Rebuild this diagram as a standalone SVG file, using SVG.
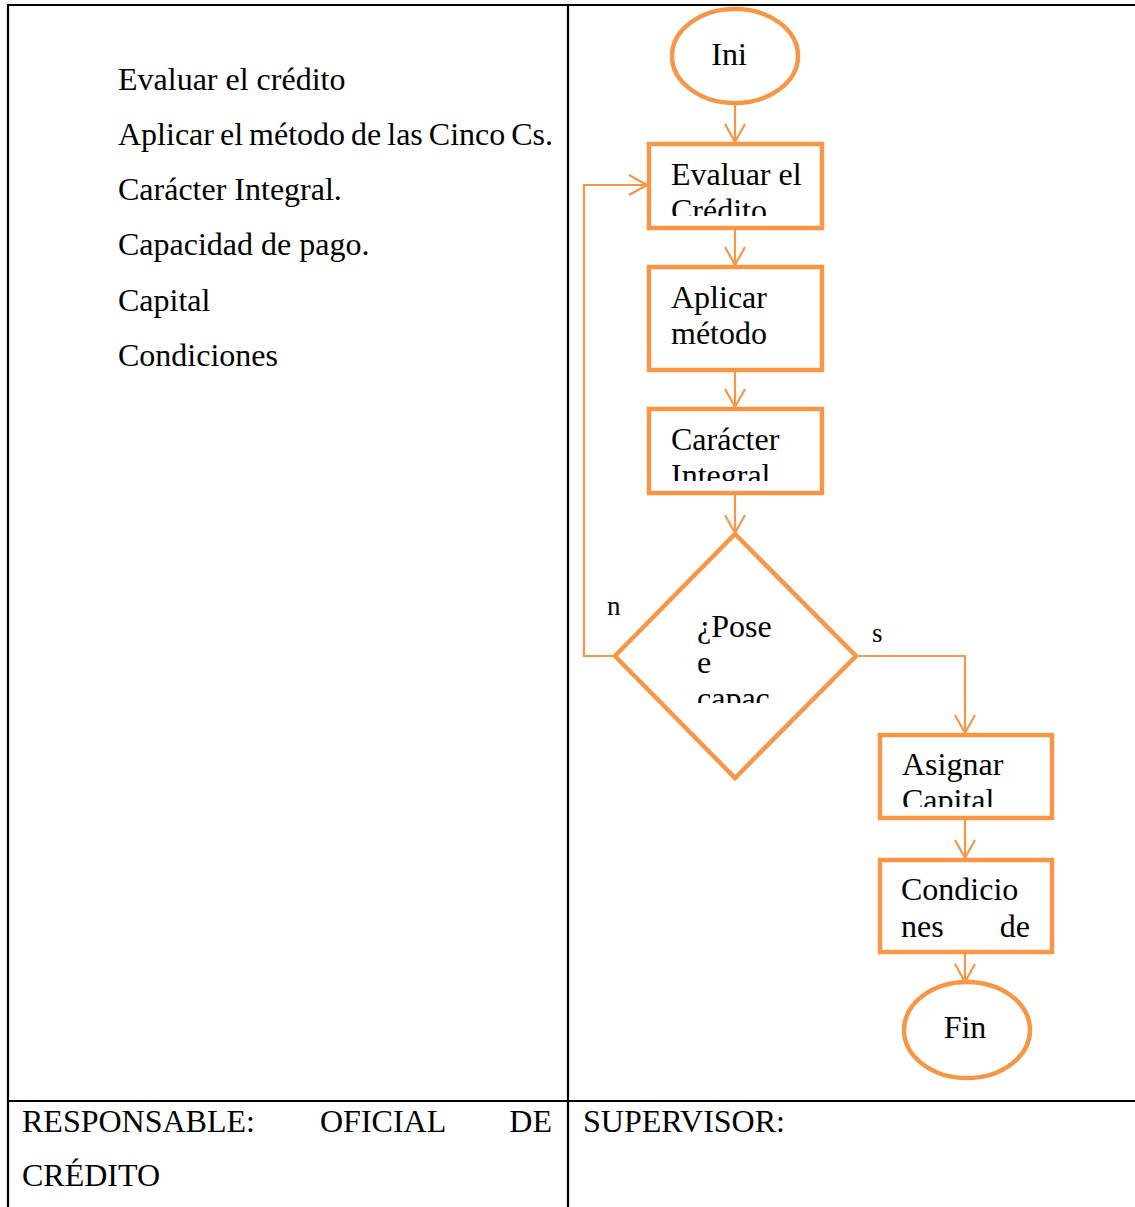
<svg xmlns="http://www.w3.org/2000/svg" width="1135" height="1207" viewBox="0 0 1135 1207">
  <style>
    .grid { stroke: #000; stroke-width: 2.2; fill: none; }
    .txt { font-family: "Liberation Serif", "Times New Roman", serif; font-size: 32px; fill: #000; }
    .shape { fill: #fff; stroke: #F79646; stroke-width: 4.5; }
    .edge { fill: none; stroke: #F79646; stroke-width: 2.2; }
    .lbl { font-family: "Liberation Serif", "Times New Roman", serif; font-size: 27px; fill: #000; }
  </style>
  <defs>
    <marker id="arrow" markerUnits="userSpaceOnUse" markerWidth="24" markerHeight="24" viewBox="0 0 24 24" refX="21" refY="12" orient="auto">
      <path d="M3,2 L21,12 L3,22" fill="none" stroke="#F79646" stroke-width="2.2"/>
    </marker>
    <clipPath id="clipEval"><rect x="650" y="146" width="170" height="70"/></clipPath>
    <clipPath id="clipCar"><rect x="650" y="411" width="170" height="70"/></clipPath>
    <clipPath id="clipCap"><rect x="882" y="737" width="168" height="70"/></clipPath>
    <clipPath id="clipDec"><rect x="660" y="600" width="150" height="103"/></clipPath>
  </defs>

  <rect width="1135" height="1207" fill="#fff"/>

  <!-- table frame -->
  <g id="table">
    <line class="grid" x1="8" y1="5" x2="1135" y2="5"/>
    <line class="grid" x1="8" y1="4" x2="8" y2="1207"/>
    <line class="grid" x1="568" y1="5" x2="568" y2="1207"/>
    <line class="grid" x1="8" y1="1101" x2="1135" y2="1101"/>
  </g>

  <!-- step list -->
  <g id="steps" class="txt">
    <text x="118" y="90">Evaluar el crédito</text>
    <text x="118" y="145" word-spacing="-2">Aplicar el método de las Cinco Cs.</text>
    <text x="118" y="200">Carácter Integral.</text>
    <text x="118" y="255">Capacidad de pago.</text>
    <text x="118" y="311">Capital</text>
    <text x="118" y="366">Condiciones</text>
  </g>

  <!-- footer cells -->
  <g id="footer" class="txt">
    <text x="22" y="1132">RESPONSABLE:</text>
    <text x="320" y="1132">OFICIAL</text>
    <text x="552" y="1132" text-anchor="end">DE</text>
    <text x="22" y="1186">CRÉDITO</text>
    <text x="583" y="1132">SUPERVISOR:</text>
  </g>

  <!-- connectors -->
  <g id="connectors">
    <line class="edge" x1="735" y1="104" x2="735" y2="142" marker-end="url(#arrow)"/>
    <line class="edge" x1="735" y1="230" x2="735" y2="265" marker-end="url(#arrow)"/>
    <line class="edge" x1="735" y1="372" x2="735" y2="407" marker-end="url(#arrow)"/>
    <line class="edge" x1="735" y1="495" x2="735" y2="533" marker-end="url(#arrow)"/>
    <polyline class="edge" points="615,656 584,656 584,185 647,185" marker-end="url(#arrow)"/>
    <polyline class="edge" points="856,656 965,656 965,733" marker-end="url(#arrow)"/>
    <line class="edge" x1="965" y1="820" x2="965" y2="858" marker-end="url(#arrow)"/>
    <line class="edge" x1="965" y1="954" x2="965" y2="982" marker-end="url(#arrow)"/>
    <text class="lbl" x="607" y="615">n</text>
    <text class="lbl" x="872" y="642">s</text>
  </g>

  <g id="start">
    <ellipse class="shape" cx="735" cy="56" rx="63" ry="47"/>
    <text class="txt" x="729" y="65" text-anchor="middle">Ini</text>
  </g>

  <g id="evaluar">
    <rect class="shape" x="649" y="144" width="173" height="84"/>
    <g class="txt" clip-path="url(#clipEval)">
      <text x="671" y="185">Evaluar el</text>
      <text x="671" y="221">Crédito</text>
    </g>
  </g>

  <g id="aplicar">
    <rect class="shape" x="649" y="267" width="173" height="103"/>
    <g class="txt">
      <text x="671" y="308">Aplicar</text>
      <text x="671" y="344">método</text>
    </g>
  </g>

  <g id="caracter">
    <rect class="shape" x="649" y="409" width="173" height="84"/>
    <g class="txt" clip-path="url(#clipCar)">
      <text x="671" y="450">Carácter</text>
      <text x="671" y="486">Integral</text>
    </g>
  </g>

  <g id="decision">
    <polygon class="shape" points="735,534 856,656 735,778 615,656"/>
    <g class="txt" clip-path="url(#clipDec)">
      <text x="697" y="637">¿Pose</text>
      <text x="697" y="673">e</text>
      <text x="697" y="709">capac</text>
    </g>
  </g>

  <g id="asignar">
    <rect class="shape" x="880" y="735" width="172" height="83"/>
    <g class="txt" clip-path="url(#clipCap)">
      <text x="902" y="775">Asignar</text>
      <text x="902" y="811">Capital</text>
    </g>
  </g>

  <g id="condiciones">
    <rect class="shape" x="880" y="860" width="172" height="92"/>
    <g class="txt">
      <text x="901" y="900">Condicio</text>
      <text x="901" y="937">nes</text>
      <text x="1030" y="937" text-anchor="end">de</text>
    </g>
  </g>

  <g id="end">
    <ellipse class="shape" cx="967" cy="1030" rx="63" ry="48"/>
    <text class="txt" x="965" y="1038" text-anchor="middle">Fin</text>
  </g>
</svg>
